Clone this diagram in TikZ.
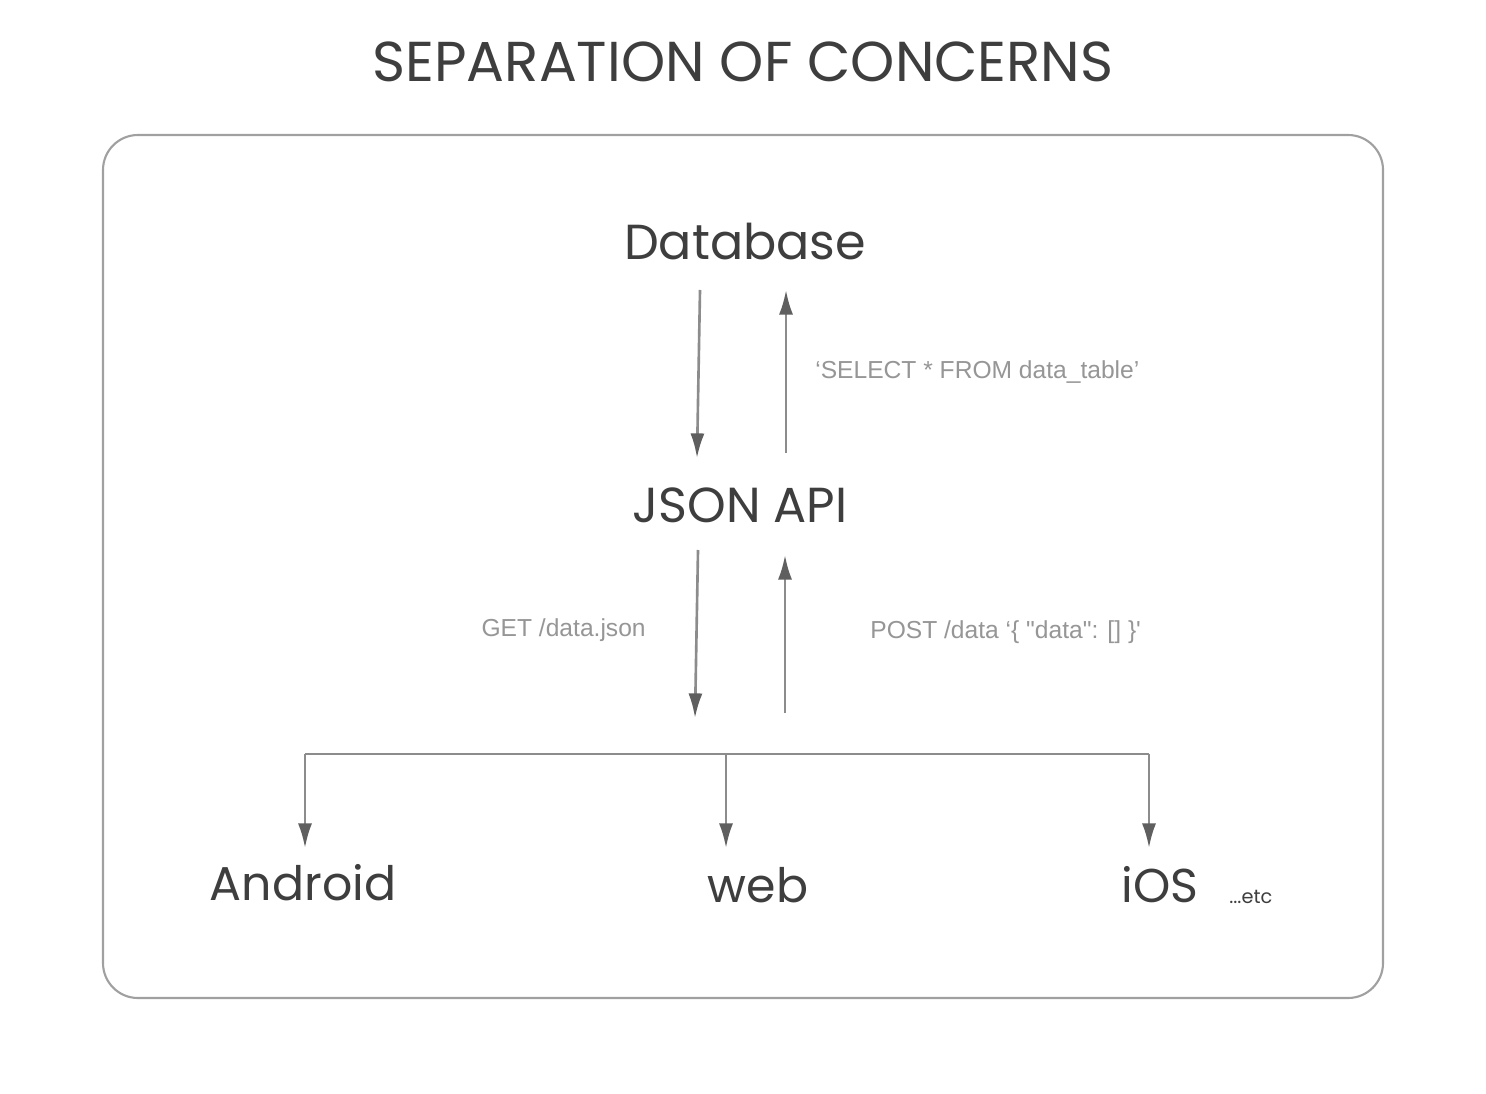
\documentclass[tikz,border=0pt]{standalone}
\usepackage{fontspec}
\setmainfont{Poppins}
\newfontfamily\notefont{Liberation Sans}
\usetikzlibrary{arrows.meta}
\definecolor{ink}{RGB}{62,62,62}
\definecolor{wire}{RGB}{140,140,140}
\definecolor{tip}{RGB}{95,95,95}
\definecolor{note}{RGB}{150,150,150}
\definecolor{edge}{RGB}{160,160,160}

\begin{document}
\begin{tikzpicture}[x=0.02cm,y=-0.02cm,
  big/.style={text=ink,font=\fontsize{27}{32}\selectfont,inner sep=0pt},
  tiny/.style={text=ink,font=\fontsize{11}{13}\selectfont,inner sep=0pt},
  note/.style={text=note,font=\notefont\fontsize{14}{17}\selectfont,inner sep=0pt},
  flow/.style={draw=wire,line width=1.5pt,-{Latex[length=14pt,width=8pt,color=tip]}}]
\useasboundingbox (0,0) rectangle (1486,1094);
\fill[white] (0,0) rectangle (1486,1094);
\draw[edge,line width=1.2pt,rounded corners=0.7cm] (103,135) rectangle (1383,998);

\node[big,font=\fontsize{32}{38}\selectfont] (title) at (743,62) {SEPARATION OF CONCERNS};
\node[big,font=\fontsize{28}{33}\selectfont] (db) at (745,242) {Database};
\node[big,font=\fontsize{28}{33}\selectfont] (api) at (740,505) {JSON API};
\node[big] (android) at (303,883) {Android};
\node[big] (web) at (758,885) {web};
\node[big] (ios) at (1160,885) {iOS};
\node[tiny,anchor=west] (etc) at (1229,897) {...etc};

\node[note,anchor=west] (select) at (815,372) {‘SELECT * FROM data\_table’};
\node[note,anchor=east] (get) at (646,630) {GET /data.json};
\node[note,anchor=west] (post) at (870,632) {POST /data ‘\{ "data": [] \}'};

\coordinate (dbout) at (700,290);
\coordinate (apiin) at (697,458);
\coordinate (apiup) at (786,453);
\coordinate (dbin) at (786,290);
\coordinate (apiout) at (698,550);
\coordinate (busin) at (695,718);
\coordinate (busup) at (785,713);
\coordinate (apiback) at (785,555);
\coordinate (busL) at (305,754);
\coordinate (busM) at (726,754);
\coordinate (busR) at (1149,754);

\draw[flow] (dbout) -- (apiin);
\draw[flow] (apiup) -- (dbin);
\draw[flow] (apiout) -- (busin);
\draw[flow] (busup) -- (apiback);

\draw[wire,line width=1.5pt] (busL) -- (busR);
\draw[flow] (busL) -- (busL |- 0,848);
\draw[flow] (busM) -- (busM |- 0,848);
\draw[flow] (busR) -- (busR |- 0,848);

\end{tikzpicture}
\end{document}
